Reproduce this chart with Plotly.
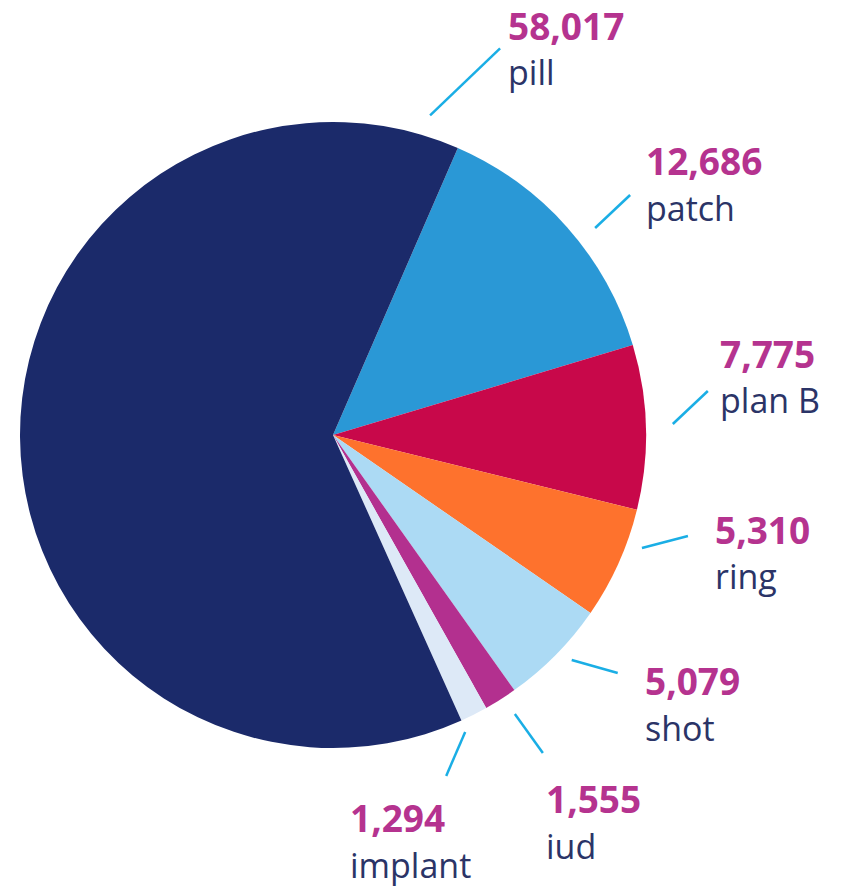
import math
import plotly.graph_objects as go

# ---- data ----
labels = ["patch", "plan B", "ring", "shot", "iud", "implant", "pill"]
values = [12686, 7775, 5310, 5079, 1555, 1294, 58017]
value_text = ["12,686", "7,775", "5,310", "5,079", "1,555", "1,294", "58,017"]

# ---- style ----
colors = ["#2a98d6", "#c8084a", "#fe722d", "#acdaf4", "#b3308f", "#dde9f7", "#1b2a6a"]
NUM_COLOR = "#b5338f"
NAME_COLOR = "#2b3467"
LINE_COLOR = "#1aaee5"
FONT = "Open Sans"

W, H = 852, 887
CX, CY, R = 333, 435, 313  # pie center / radius in px

# label layout: anchor angle (deg clockwise from top), start radius (px),
# leader vector (px), text offset from leader end (px; x of left edge, y of number baseline)
label_layout = {
    "pill":    dict(ang=16.9,  r=334, vec=(70, -67), off=(7, -9)),
    "patch":   dict(ang=51.7,  r=334, vec=(35, -33), off=(15, -20)),
    "plan B":  dict(ang=88.15, r=340, vec=(35, -33), off=(11, -24)),
    "ring":    dict(ang=110.1, r=329, vec=(46, -12), off=(26, 7)),
    "shot":    dict(ang=133.3, r=328, vec=(46, 13),  off=(26, 22)),
    "iud":     dict(ang=146.9, r=333, vec=(28, 39),  off=(2, 60)),
    "implant": dict(ang=156.0, r=325, vec=(-19, 44), off=(-97, 56)),
}

def px(x):
    return x / W

def py(y):
    return 1 - y / H

fig = go.Figure(go.Pie(
    labels=labels,
    values=values,
    sort=False,
    direction="clockwise",
    rotation=23.5,
    marker=dict(colors=colors, line=dict(width=0)),
    textinfo="none",
    hoverinfo="label+value",
    showlegend=False,
    domain=dict(x=[px(CX - R), px(CX + R)], y=[py(CY + R), py(CY - R)]),
))

shapes = []
annotations = []
for lab, vt in zip(labels, value_text):
    L = label_layout[lab]
    a = math.radians(L["ang"])
    sx = CX + L["r"] * math.sin(a)
    sy = CY - L["r"] * math.cos(a)
    ex = sx + L["vec"][0]
    ey = sy + L["vec"][1]
    shapes.append(dict(type="line", xref="paper", yref="paper",
                       x0=px(sx), y0=py(sy), x1=px(ex), y1=py(ey),
                       line=dict(color=LINE_COLOR, width=2.5)))
    tx = ex + L["off"][0]
    base = ey + L["off"][1]
    annotations.append(dict(xref="paper", yref="paper", x=px(tx), y=py(base - 14),
                            xanchor="left", yanchor="middle", showarrow=False,
                            text="<b>" + vt + "</b>", borderpad=0,
                            font=dict(family=FONT, size=37, color=NUM_COLOR)))
    annotations.append(dict(xref="paper", yref="paper", x=px(tx), y=py(base + 45 - 12),
                            xanchor="left", yanchor="middle", showarrow=False,
                            text=lab, borderpad=0,
                            font=dict(family=FONT, size=34, color=NAME_COLOR)))

fig.update_layout(
    width=W, height=H,
    margin=dict(l=0, r=0, t=0, b=0),
    paper_bgcolor="white", plot_bgcolor="white",
    shapes=shapes, annotations=annotations,
)

fig.write_html("out.html")
